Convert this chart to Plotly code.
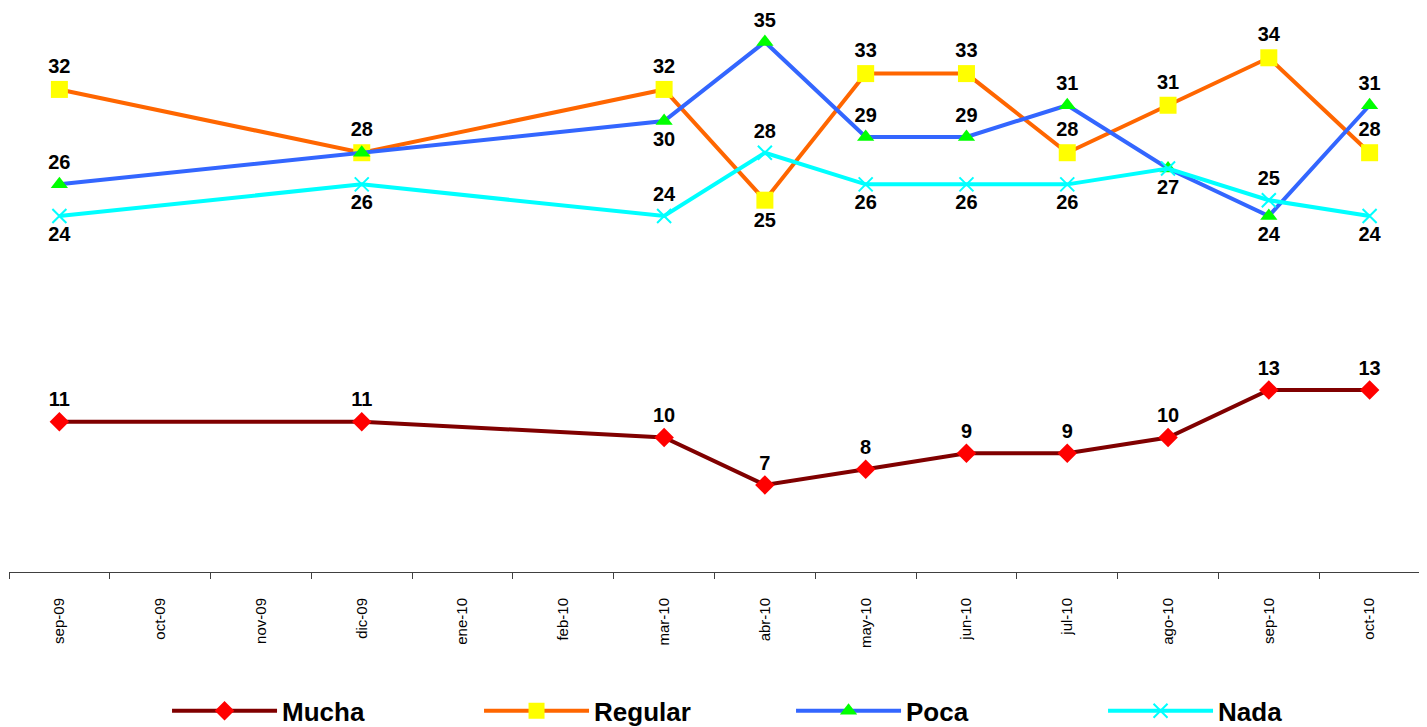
import plotly.graph_objects as go

months = ["sep-09", "oct-09", "nov-09", "dic-09", "ene-10", "feb-10", "mar-10",
          "abr-10", "may-10", "jun-10", "jul-10", "ago-10", "sep-10", "oct-10"]

mucha = [11, None, None, 11, None, None, 10, 7, 8, 9, 9, 10, 13, 13]
regular = [32, None, None, 28, None, None, 32, 25, 33, 33, 28, 31, 34, 28]
poca = [26, None, None, 28, None, None, 30, 35, 29, 29, 31, 27, 24, 31]
nada = [24, None, None, 26, None, None, 24, 28, 26, 26, 26, 27, 25, 24]

T, B = "top center", "bottom center"
pos_mucha = [T] * 14
pos_regular = [T, T, T, T, T, T, T, B, T, T, T, T, T, T]
pos_poca = [T, T, T, T, T, T, B, T, T, T, T, B, B, T]
pos_nada = [B, B, B, B, B, B, T, T, B, B, B, B, T, B]

FONT = "Arial, Liberation Sans, sans-serif"

series = [
    ("Mucha", mucha, pos_mucha, "#800000", dict(symbol="diamond", size=15, color="#FF0000")),
    ("Regular", regular, pos_regular, "#FF6600", dict(symbol="square", size=17, color="#FFFF00")),
    ("Poca", poca, pos_poca, "#3366FF", dict(symbol="triangle-up", size=15, color="#00FF00")),
    ("Nada", nada, pos_nada, "#00FFFF", dict(symbol="x-thin", size=14, color="#00FFFF",
                                              line=dict(width=2, color="#00FFFF"))),
]

fig = go.Figure()
seen = set()
for name, vals, pos, lc, mk in series:
    labels = []
    for i, (v, p) in enumerate(zip(vals, pos)):
        if v is None or (i, v, p) in seen:
            labels.append("")
        else:
            labels.append(str(v))
            seen.add((i, v, p))
    fig.add_trace(go.Scatter(
        x=months, y=vals, name=name, mode="lines+markers+text",
        connectgaps=True,
        line=dict(color=lc, width=4),
        marker=mk,
        text=labels,
        textposition=pos,
        textfont=dict(family=FONT, size=20, color="black", weight="bold"),
        cliponaxis=False,
    ))

fig.update_layout(
    width=1427, height=727,
    margin=dict(l=1, r=15, t=2, b=163, autoexpand=False),
    plot_bgcolor="white", paper_bgcolor="white",
    font=dict(family=FONT),
    showlegend=True,
    legend=dict(orientation="h", x=0.112, xanchor="left", y=-0.247, yanchor="middle",
                font=dict(family=FONT, size=26, color="black", weight="bold"),
                itemwidth=105, entrywidth=192, entrywidthmode="pixels",
                traceorder="normal", itemclick=False),
    xaxis=dict(type="category", categoryorder="array", categoryarray=months,
               range=[-0.5, 13.5], showgrid=False, zeroline=False, automargin=False,
               showline=True, linecolor="#404040", linewidth=1,
               ticks="outside", tickson="boundaries", ticklen=6, tickcolor="#404040",
               tickangle=-90, ticklabelstandoff=19,
               tickfont=dict(family=FONT, size=15, color="black")),
    yaxis=dict(range=[1.5, 37.02], visible=False, showgrid=False, zeroline=False,
               automargin=False),
)

fig.write_html("out.html")
